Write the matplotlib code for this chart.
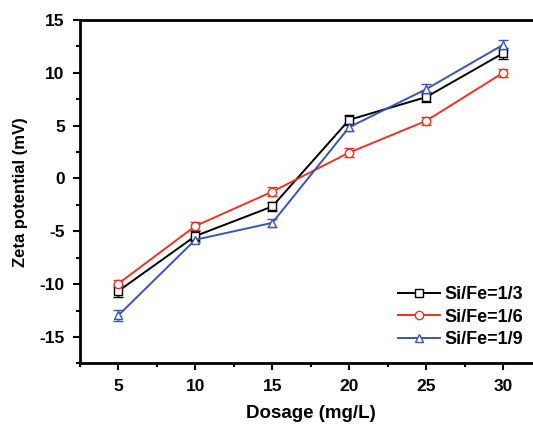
import matplotlib
matplotlib.use("Agg")
import matplotlib.pyplot as plt
from matplotlib.ticker import MultipleLocator

plt.rcParams['font.family'] = ['Liberation Sans', 'DejaVu Sans']
plt.rcParams['font.weight'] = 'bold'
plt.rcParams['axes.unicode_minus'] = False

dosage = [5, 10, 15, 20, 25, 30]
labels = ['Si/Fe=1/3', 'Si/Fe=1/6', 'Si/Fe=1/9']
zeta_13 = [-10.65, -5.45, -2.65, 5.55, 7.7, 11.85]
zeta_16 = [-9.95, -4.5, -1.25, 2.45, 5.45, 10.0]
zeta_19 = [-12.95, -5.8, -4.2, 4.85, 8.45, 12.65]
err_13 = [0.55, 0.45, 0.4, 0.45, 0.45, 0.5]
err_16 = [0.35, 0.35, 0.45, 0.4, 0.35, 0.4]
err_19 = [0.5, 0.35, 0.4, 0.4, 0.45, 0.45]

fig = plt.figure(figsize=(5.33, 4.25), dpi=100)
ax = fig.add_axes([0.150, 0.145, 0.866, 0.808])

series = [(zeta_13, err_13, 'black', 's'),
          (zeta_16, err_16, '#f03028', 'o'),
          (zeta_19, err_19, '#3a54b0', '^')]
handles = []
for (vals, errs, col, mk), lab in zip(series, labels):
    eb = ax.errorbar(dosage, vals, yerr=errs, color=col, marker=mk, ms=6,
                     mfc='white', mec=col, mew=1.0, lw=1.4, capsize=3.5,
                     elinewidth=1.0, capthick=1.0, label=lab)
    handles.append(eb[0])

ax.set_xlim(2.5, 32.5)
ax.set_ylim(-17.5, 15)
ax.xaxis.set_major_locator(MultipleLocator(5))
ax.xaxis.set_minor_locator(MultipleLocator(2.5))
ax.yaxis.set_major_locator(MultipleLocator(5))
ax.yaxis.set_minor_locator(MultipleLocator(2.5))
ax.tick_params(which='major', direction='out', length=5, width=1.5,
               labelsize=12.5, pad=6)
ax.tick_params(which='minor', direction='out', length=3, width=1.5)
ax.tick_params(top=False, right=False, which='both')
for s in ax.spines.values():
    s.set_linewidth(2)
ax.spines['right'].set_visible(False)

ax.set_xlabel('Dosage (mg/L)', fontsize=13.5, fontweight='bold', labelpad=8)
ax.set_ylabel('Zeta potential (mV)', fontsize=12, fontweight='bold', labelpad=8)

leg = ax.legend(handles=handles, labels=labels, loc='lower left',
                bbox_to_anchor=(0.689, 0.045), frameon=False, borderpad=0,
                fontsize=13, handlelength=2.3, handletextpad=0.3,
                labelspacing=0.3, borderaxespad=0)

fig.savefig('out.png', dpi=100)
